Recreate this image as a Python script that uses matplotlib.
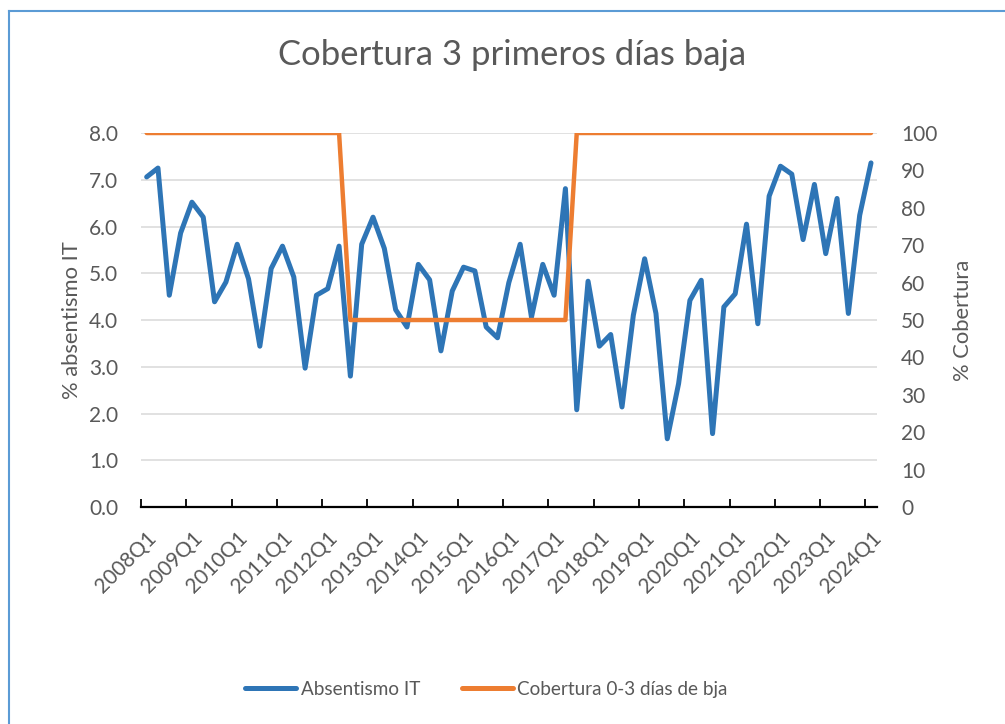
import numpy as np
import matplotlib.pyplot as plt
import matplotlib.transforms as mtransforms
from matplotlib.lines import Line2D

plt.rcParams['font.family'] = ['Lato', 'DejaVu Sans']

# quarters 2008Q1 .. 2024Q1
quarters = [f"{y}Q{q}" for y in range(2008, 2025) for q in range(1, 5)][:65]

absentismo = [7.06, 7.25, 4.53, 5.86, 6.52, 6.20, 4.39, 4.81, 5.62, 4.88,
              3.44, 5.10, 5.58, 4.92, 2.97, 4.53, 4.67, 5.58, 2.80, 5.62,
              6.20, 5.53, 4.22, 3.85, 5.19, 4.86, 3.34, 4.62, 5.13, 5.05,
              3.85, 3.62, 4.80, 5.62, 4.06, 5.19, 4.53, 6.81, 2.08, 4.83,
              3.44, 3.69, 2.14, 4.10, 5.31, 4.14, 1.46, 2.64, 4.42, 4.85,
              1.57, 4.28, 4.56, 6.05, 3.92, 6.65, 7.29, 7.12, 5.72, 6.90,
              5.42, 6.60, 4.14, 6.24, 7.36]

cobertura = [100] * 18 + [50] * 20 + [100] * 27

blue = '#2E75B6'
orange = '#ED7D31'
grey = '#595959'

fig = plt.figure(figsize=(10.05, 7.24), dpi=100)
ax = fig.add_axes([0.1403, 0.2997, 0.732, 0.5166])
ax2 = ax.twinx()

x = np.arange(len(quarters))
ax.plot(x, absentismo, color=blue, lw=3.6, solid_capstyle='round', solid_joinstyle='round', zorder=3)
ax2.plot(x, cobertura, color=orange, lw=3.2, solid_capstyle='round', zorder=3)

ax.set_xlim(-0.5, len(quarters) - 0.5)
ax.set_ylim(0, 8)
ax2.set_ylim(0, 100)
ax.set_yticks(np.arange(0, 8.1, 1))
ax.set_yticklabels([f"{v:.1f}" for v in np.arange(0, 8.1, 1)])
ax2.set_yticks(np.arange(0, 101, 10))

# gridlines
ax.grid(axis='y', color='#D9D9D9', lw=1.1, zorder=0)
ax.set_axisbelow(True)

for a in (ax, ax2):
    for s in ('top', 'left', 'right'):
        a.spines[s].set_visible(False)
ax2.spines['bottom'].set_visible(False)
ax.spines['bottom'].set_color('black')
ax.spines['bottom'].set_linewidth(1.6)

# ticks at category boundaries, labels at category centres
ax.set_xticks(np.arange(0, len(quarters), 4))
ax.set_xticklabels(quarters[::4], rotation=45, ha='right', va='top',
                   rotation_mode='anchor', color=grey, fontsize=15)
shift = mtransforms.ScaledTranslation(4 / 100, 0, fig.dpi_scale_trans)
for lbl in ax.get_xticklabels():
    lbl.set_transform(lbl.get_transform() + shift)
ax.set_xticks(np.arange(-0.5, len(quarters), 4), minor=True)
ax.tick_params(axis='x', which='major', length=0, pad=15)
ax.tick_params(axis='x', which='minor', direction='in', length=5.5, width=1.3, color='black')
ax.tick_params(axis='y', length=0, labelsize=15, labelcolor=grey, pad=16.5)
ax2.tick_params(axis='y', length=0, labelsize=15, labelcolor=grey, pad=17.5)

ax.set_ylabel("% absentismo IT", fontsize=15.8, color=grey, labelpad=5)
ax2.set_ylabel("% Cobertura", fontsize=15.8, color=grey, labelpad=11)

fig.text(0.510, 0.924, "Cobertura 3 primeros días baja", ha='center', va='center',
         fontsize=24.9, color=grey)

handles = [Line2D([], [], color=blue, lw=3.6, solid_capstyle='round'),
           Line2D([], [], color=orange, lw=3.6, solid_capstyle='round')]
fig.legend(handles, ["Absentismo IT", "Cobertura 0-3 días de bja"], loc='center',
           bbox_to_anchor=(0.484, 0.048), ncol=2, frameon=False, fontsize=13.6,
           labelcolor=grey, handlelength=2.7, handletextpad=0.25, columnspacing=2.2)

# chart border (clipped at right/bottom like the reference)
fig.add_artist(Line2D([0.009, 0.009], [0, 0.9848], color='#5B9BD5', lw=1.5))
fig.add_artist(Line2D([0.009, 1], [0.9848, 0.9848], color='#5B9BD5', lw=1.5))

fig.savefig("out.png", dpi=100)
